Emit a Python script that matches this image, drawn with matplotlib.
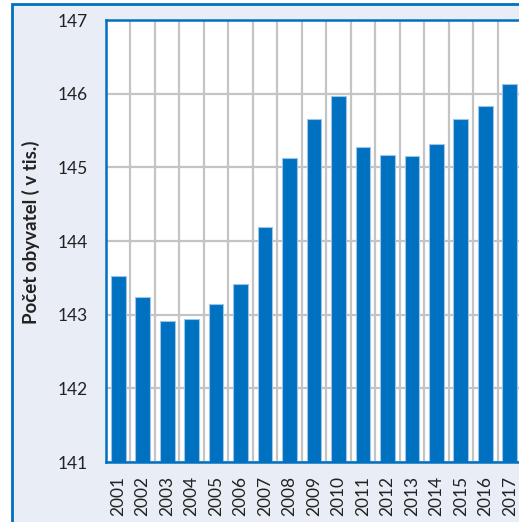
import matplotlib
matplotlib.use("Agg")
import matplotlib.pyplot as plt
from matplotlib.patches import Rectangle

years = ["2001", "2002", "2003", "2004", "2005", "2006", "2007", "2008", "2009",
         "2010", "2011", "2012", "2013", "2014", "2015", "2016", "2017"]
values = [143.52, 143.24, 142.92, 142.94, 143.15, 143.41, 144.19, 145.13, 145.65,
          145.97, 145.28, 145.17, 145.15, 145.31, 145.65, 145.83, 146.13]
yticks = [141, 142, 143, 144, 145, 146, 147]
ylabel = "Počet obyvatel ( v tis.)"

W, H = 519, 522
fig = plt.figure(figsize=(W / 100, H / 100), dpi=100, facecolor="white")
plt.rcParams['font.family'] = ['Lato', 'DejaVu Sans']

# outer panel with blue border (left & top visible)
fig.patches.append(Rectangle((12 / W, -0.05), 1.1, 1 - 4 / H + 0.05,
                             transform=fig.transFigure, facecolor="#E9EEF6",
                             edgecolor="#0070C0", linewidth=2, zorder=-10))

left = 106 / W
bottom = 1 - 462 / H
top = 1 - 20 / H
width = 416 / W
ax = fig.add_axes([left, bottom, width, top - bottom])
ax.set_facecolor("white")

x = list(range(len(years)))
ax.bar(x, [v - 141 for v in values], bottom=141, width=0.6, color="#0070C0",
       edgecolor="#9DC3E6", linewidth=0.8, zorder=3)

ax.set_xlim(-0.5, len(years) - 0.5)
ax.set_ylim(141, 147)
ax.set_yticks(yticks)
ax.set_yticklabels([str(t) for t in yticks], fontsize=12.5, color="#222222")
ax.set_xticks(x)
ax.set_xticklabels(years, rotation=90, fontsize=12.5, color="#222222")
ax.tick_params(axis="y", length=0, pad=13)
ax.tick_params(axis="x", length=0, pad=10)

for i in range(len(years) + 1):
    ax.axvline(i - 0.5, color="#C4C4C4", linewidth=1.6, zorder=1)
for t in yticks:
    ax.axhline(t, color="#C4C4C4", linewidth=1.6, zorder=1)

for s in ["left", "top", "bottom"]:
    ax.spines[s].set_color("#0070C0")
    ax.spines[s].set_linewidth(1.8)
    ax.spines[s].set_zorder(4)
ax.spines["right"].set_visible(False)

fig.text(31 / W, 1 - 232 / H, ylabel, rotation=90, ha="center", va="center",
         fontsize=13.5, fontweight="bold", color="#222222")

fig.savefig("out.png", dpi=100)
